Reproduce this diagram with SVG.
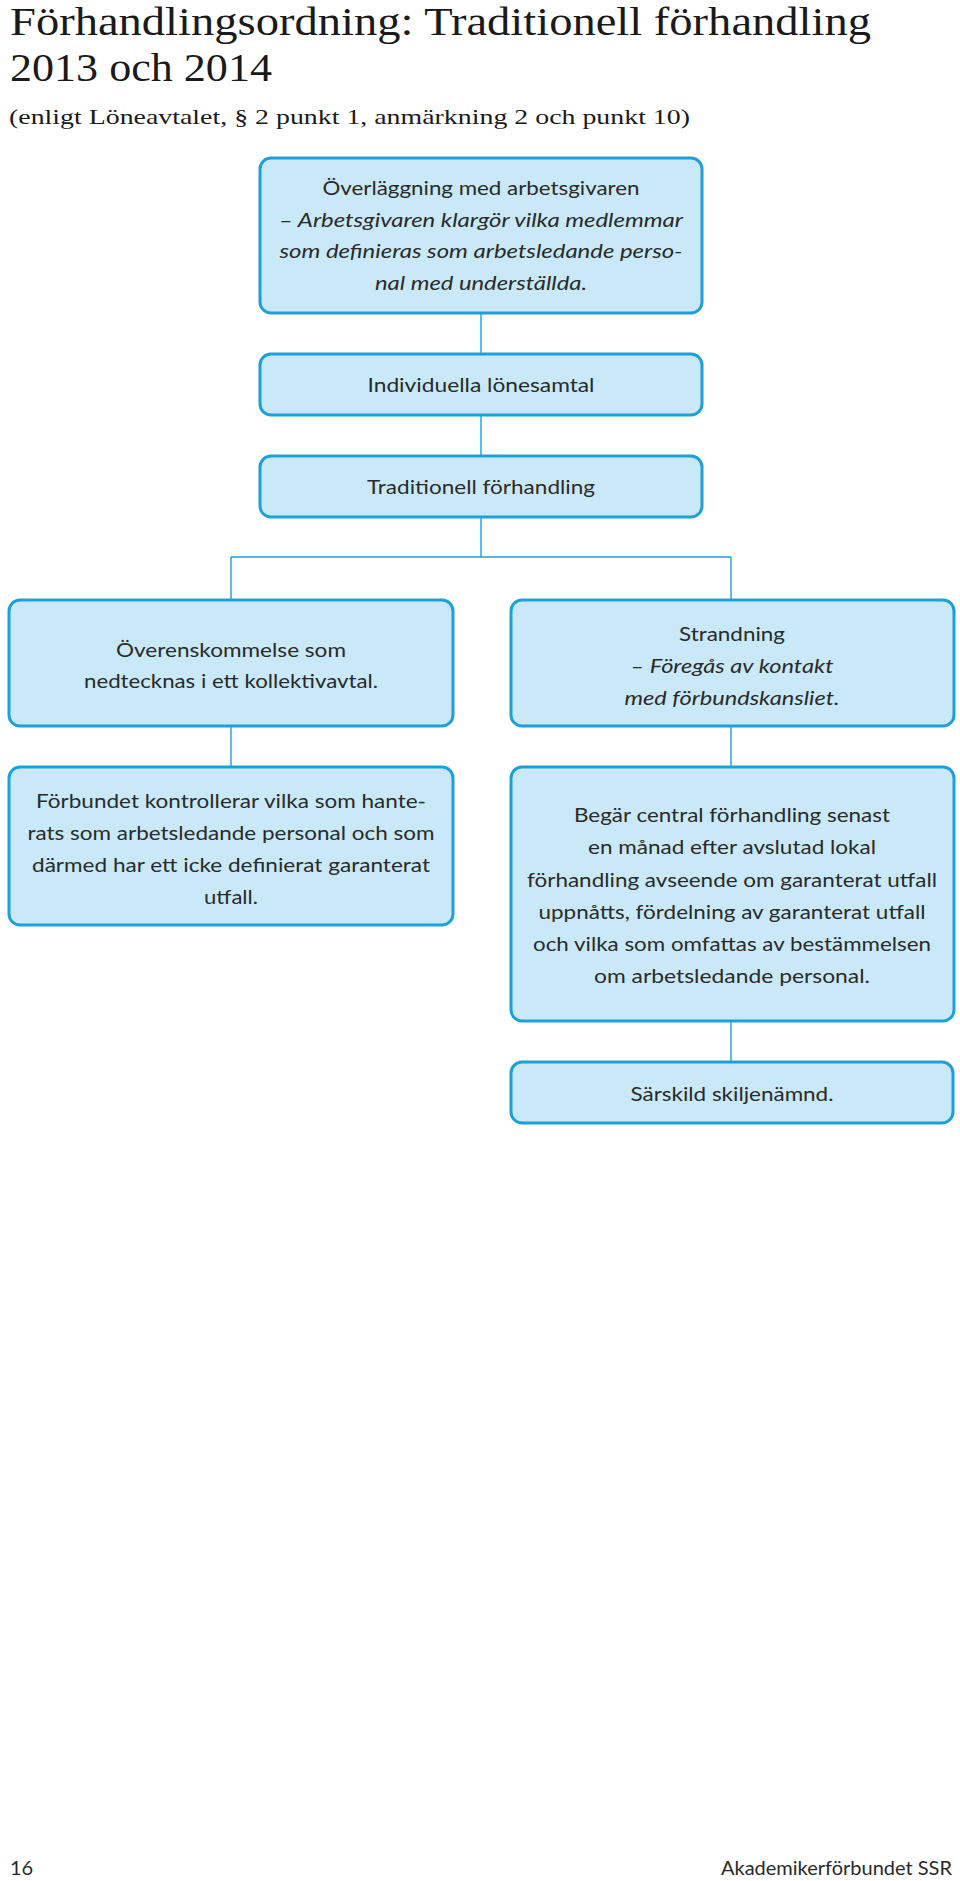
<svg xmlns="http://www.w3.org/2000/svg" width="960" height="1881" viewBox="0 0 960 1881">
<style>
.bg{fill:#ffffff}
.title{font-family:"Liberation Serif","DejaVu Serif",serif;fill:#1a1a1a}
.box{fill:#c9e9f8;stroke:#1e9fd9;stroke-width:3}
.t{font-family:Lato,"Open Sans","Liberation Sans",sans-serif;font-size:20px;fill:#2a2a2a;text-anchor:middle}
.i{font-style:italic}
.conn line{stroke:#1e9fd9;stroke-width:1.4;fill:none}
.foot{font-family:Lato,"Open Sans","Liberation Sans",sans-serif;font-size:20px;fill:#2a2a2a}
</style>
<rect class="bg" x="0" y="0" width="960" height="1881"/>
<g id="heading">
<text class="title" x="10" y="35" font-size="40" textLength="861" lengthAdjust="spacingAndGlyphs">Förhandlingsordning: Traditionell förhandling</text>
<text class="title" x="10" y="81" font-size="40" textLength="262" lengthAdjust="spacingAndGlyphs">2013 och 2014</text>
<text class="title" x="9" y="124" font-size="22" textLength="681" lengthAdjust="spacingAndGlyphs">(enligt Löneavtalet, § 2 punkt 1, anmärkning 2 och punkt 10)</text>
</g>
<g id="connectors" class="conn">
<line x1="481" y1="313" x2="481" y2="353"/>
<line x1="481" y1="415" x2="481" y2="455"/>
<line x1="481" y1="517" x2="481" y2="557"/>
<line x1="231" y1="557" x2="731" y2="557"/>
<line x1="231" y1="557" x2="231" y2="600"/>
<line x1="731" y1="557" x2="731" y2="600"/>
<line x1="231" y1="726" x2="231" y2="767"/>
<line x1="731" y1="726" x2="731" y2="767"/>
<line x1="731" y1="1021" x2="731" y2="1062"/>
</g>
<g id="n1">
<rect class="box" x="260" y="158" width="442" height="155" rx="11"/>
<text class="t" x="481" y="195" textLength="317" lengthAdjust="spacingAndGlyphs">Överläggning med arbetsgivaren</text>
<text class="t i" x="481" y="227" textLength="404" lengthAdjust="spacingAndGlyphs">– Arbetsgivaren klargör vilka medlemmar</text>
<text class="t i" x="481" y="258" textLength="403" lengthAdjust="spacingAndGlyphs">som definieras som arbetsledande perso-</text>
<text class="t i" x="481" y="290" textLength="212" lengthAdjust="spacingAndGlyphs">nal med underställda.</text>
</g>
<g id="n2">
<rect class="box" x="260" y="354" width="442" height="61" rx="11"/>
<text class="t" x="481" y="392" textLength="227" lengthAdjust="spacingAndGlyphs">Individuella lönesamtal</text>
</g>
<g id="n3">
<rect class="box" x="260" y="456" width="442" height="61" rx="11"/>
<text class="t" x="481" y="494" textLength="228" lengthAdjust="spacingAndGlyphs">Traditionell förhandling</text>
</g>
<g id="n4">
<rect class="box" x="9" y="600" width="444" height="126" rx="11"/>
<text class="t" x="231" y="657" textLength="230" lengthAdjust="spacingAndGlyphs">Överenskommelse som</text>
<text class="t" x="231" y="688" textLength="294" lengthAdjust="spacingAndGlyphs">nedtecknas i ett kollektivavtal.</text>
</g>
<g id="n5">
<rect class="box" x="511" y="600" width="443" height="126" rx="11"/>
<text class="t" x="732" y="641" textLength="106" lengthAdjust="spacingAndGlyphs">Strandning</text>
<text class="t i" x="732" y="673" textLength="203" lengthAdjust="spacingAndGlyphs">– Föregås av kontakt</text>
<text class="t i" x="732" y="705" textLength="215" lengthAdjust="spacingAndGlyphs">med förbundskansliet.</text>
</g>
<g id="n6">
<rect class="box" x="9" y="767" width="444" height="158" rx="11"/>
<text class="t" x="231" y="808" textLength="390" lengthAdjust="spacingAndGlyphs">Förbundet kontrollerar vilka som hante-</text>
<text class="t" x="231" y="840" textLength="407" lengthAdjust="spacingAndGlyphs">rats som arbetsledande personal och som</text>
<text class="t" x="231" y="872" textLength="398" lengthAdjust="spacingAndGlyphs">därmed har ett icke definierat garanterat</text>
<text class="t" x="231" y="904" textLength="54" lengthAdjust="spacingAndGlyphs">utfall.</text>
</g>
<g id="n7">
<rect class="box" x="511" y="767" width="443" height="254" rx="11"/>
<text class="t" x="732" y="822" textLength="316" lengthAdjust="spacingAndGlyphs">Begär central förhandling senast</text>
<text class="t" x="732" y="854" textLength="288" lengthAdjust="spacingAndGlyphs">en månad efter avslutad lokal</text>
<text class="t" x="732" y="887" textLength="410" lengthAdjust="spacingAndGlyphs">förhandling avseende om garanterat utfall</text>
<text class="t" x="732" y="919" textLength="387" lengthAdjust="spacingAndGlyphs">uppnåtts, fördelning av garanterat utfall</text>
<text class="t" x="732" y="951" textLength="398" lengthAdjust="spacingAndGlyphs">och vilka som omfattas av bestämmelsen</text>
<text class="t" x="732" y="983" textLength="276" lengthAdjust="spacingAndGlyphs">om arbetsledande personal.</text>
</g>
<g id="n8">
<rect class="box" x="511" y="1062" width="442" height="61" rx="11"/>
<text class="t" x="732" y="1101" textLength="203" lengthAdjust="spacingAndGlyphs">Särskild skiljenämnd.</text>
</g>
<g id="footer">
<text class="foot" x="10" y="1875">16</text>
<text class="foot" x="952" y="1875" text-anchor="end" textLength="231" lengthAdjust="spacingAndGlyphs">Akademikerförbundet SSR</text>
</g>
</svg>
